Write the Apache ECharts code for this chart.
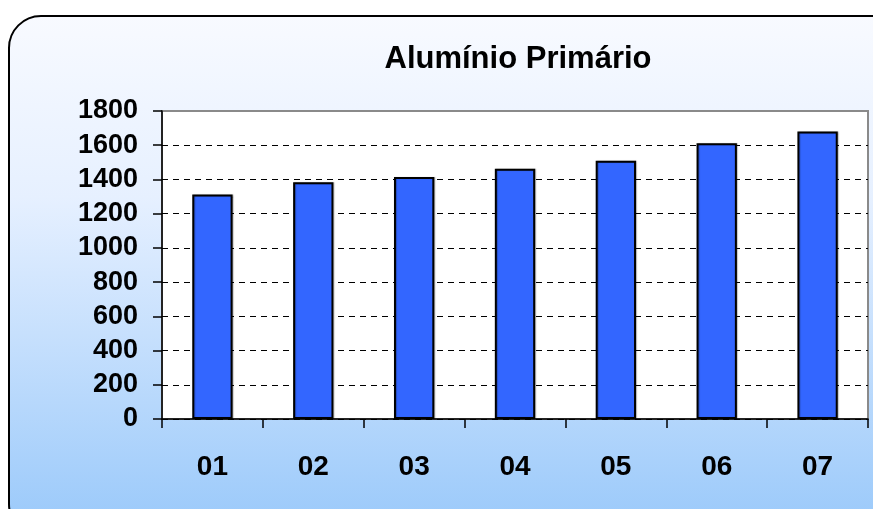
<!DOCTYPE html>
<html>
<head>
<meta charset="utf-8">
<script src="https://cdn.jsdelivr.net/npm/echarts@6/dist/echarts.min.js"></script>
<style>
  html, body { margin: 0; padding: 0; background: #ffffff; }
  #chart { width: 873px; height: 509px; }
</style>
</head>
<body>
<div id="chart"></div>
<script>
// Primary aluminium output by year (two-digit year labels)
const categories = ['01', '02', '03', '04', '05', '06', '07'];
const production = [1312, 1383, 1415, 1462, 1509, 1612, 1680];
const yTicks = { min: 0, max: 1800, step: 200 };

const chart = echarts.init(document.getElementById('chart'), null, { renderer: 'canvas' });

const labelFont = {
  fontFamily: 'Liberation Sans, Arial, sans-serif',
  fontWeight: 'bold',
  color: '#000000'
};

chart.setOption({
  animation: false,
  backgroundColor: '#ffffff',
  // rounded panel with a white-to-sky-blue vertical gradient
  graphic: [{
    type: 'rect',
    z: -10,
    silent: true,
    shape: { x: 9, y: 16, width: 900, height: 520, r: 32 },
    style: {
      fill: new echarts.graphic.LinearGradient(0, 0, 0, 1, [
        { offset: 0, color: '#f8faff' },
        { offset: 0.35, color: '#e6f0ff' },
        { offset: 1, color: '#98c8fa' }
      ]),
      stroke: '#000000',
      lineWidth: 2
    }
  }],
  title: {
    text: 'Alumínio Primário',
    left: 513,
    textAlign: 'center',
    top: 39,
    textStyle: Object.assign({ fontSize: 31 }, labelFont)
  },
  grid: {
    left: 162,
    right: 5,
    top: 111,
    bottom: 90,
    show: true,
    backgroundColor: '#ffffff',
    borderColor: '#8a8a8a',
    borderWidth: 2
  },
  xAxis: {
    type: 'category',
    data: categories,
    axisLine: { lineStyle: { color: '#000000', width: 1.5 } },
    axisTick: { show: true, alignWithLabel: false, length: 9, lineStyle: { color: '#000000', width: 1.5 } },
    axisLabel: Object.assign({ fontSize: 28, margin: 34 }, labelFont),
    splitLine: { show: false }
  },
  yAxis: {
    type: 'value',
    min: yTicks.min,
    max: yTicks.max,
    interval: yTicks.step,
    axisLine: { show: true, lineStyle: { color: '#000000', width: 1.5 } },
    axisTick: { show: true, length: 9, lineStyle: { color: '#000000', width: 1.5 } },
    axisLabel: Object.assign({ fontSize: 27, margin: 24, formatter: v => String(v) }, labelFont),
    splitLine: {
      show: true,
      showMaxLine: false,
      lineStyle: { color: '#000000', type: [6, 5], width: 1 }
    }
  },
  series: [{
    type: 'bar',
    data: production,
    barWidth: '40%',
    itemStyle: {
      color: '#3366ff',
      borderColor: '#000000',
      borderWidth: 2,
      shadowColor: 'rgba(0,0,0,0.25)',
      shadowBlur: 1,
      shadowOffsetX: 1,
      shadowOffsetY: 0
    }
  }]
});
</script>
</body>
</html>
